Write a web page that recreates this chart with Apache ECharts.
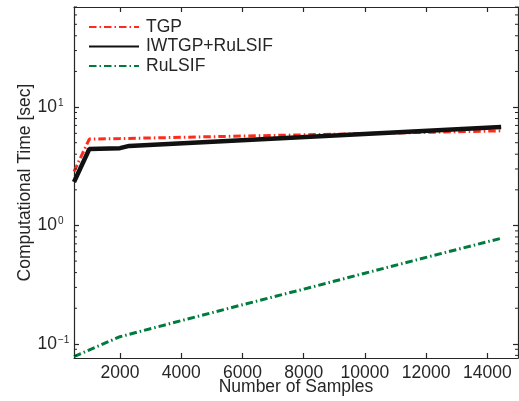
<!DOCTYPE html>
<html>
<head>
<meta charset="utf-8">
<script src="https://cdn.jsdelivr.net/npm/echarts@6/dist/echarts.min.js"></script>
<style>
  html, body { margin: 0; padding: 0; background: #ffffff; }
  #chart { width: 519px; height: 401px; }
</style>
</head>
<body>
<div id="chart"></div>
<script>
// Computational time (seconds) against the number of samples
const samplesTGP = [500, 1000, 2000, 14450];
const timeTGP = [2.85, 5.37, 5.42, 6.3];

const samplesIWTGP = [500, 1000, 2000, 2300, 14450];
const timeIWTGP = [2.33, 4.42, 4.5, 4.7, 6.8];

const samplesRuLSIF = [500, 2000, 4000, 6000, 8000, 10000, 12000, 14450];
const timeRuLSIF = [0.078, 0.115, 0.157, 0.214, 0.29, 0.395, 0.538, 0.78];

const xTickValues = [2000, 4000, 6000, 8000, 10000, 12000, 14000];
const yTickValues = [0.1, 1, 10];
const yMinorTickValues = [0.08, 0.09, 0.2, 0.3, 0.4, 0.5, 0.6, 0.7, 0.8, 0.9,
  2, 3, 4, 5, 6, 7, 8, 9, 20, 30, 40, 50, 60, 70];

const X_MIN = 500, X_MAX = 15000;
const Y_MIN = 0.076, Y_MAX = 70;

const FONT = '"Liberation Sans", Arial, Helvetica, sans-serif';
const INK = '#262626';
const FS = 17.5;

function zip(xs, ys) { return xs.map((x, i) => [x, ys[i]]); }

function powerLabel(value) {
  const e = Math.round(Math.log10(value));
  const exp = e < 0 ? '\u2212' + Math.abs(e) : String(e);
  return '{b|10}{e|' + exp + '}';
}

const dashDot = [7.5, 3, 1.5, 3];

const chart = echarts.init(document.getElementById('chart'), null, { renderer: 'canvas' });

const axisLineStyle = { color: INK, width: 1.2 };

chart.setOption({
  animation: false,
  backgroundColor: '#ffffff',
  textStyle: { fontFamily: FONT, color: INK },
  grid: { left: 74, right: 1, top: 7, bottom: 43, containLabel: false, outerBoundsMode: 'none' },
  legend: {
    orient: 'vertical',
    left: 88,
    top: 18,
    padding: 0,
    itemWidth: 50,
    itemHeight: 18,
    itemGap: 1.5,
    itemStyle: { opacity: 0 },
    textStyle: { fontFamily: FONT, fontSize: FS, color: INK, lineHeight: 18, padding: [0, 0, 0, 2] },
    data: ['TGP', 'IWTGP+RuLSIF', 'RuLSIF']
  },
  xAxis: [
    {
      type: 'value',
      min: X_MIN,
      max: X_MAX,
      position: 'bottom',
      name: 'Number of Samples',
      nameLocation: 'middle',
      nameGap: 19,
      nameMoveOverlap: false,
      nameTextStyle: { fontFamily: FONT, fontSize: FS, color: INK, lineHeight: 20 },
      axisLine: { show: true, lineStyle: axisLineStyle },
      axisTick: { show: true, inside: true, length: 5, lineStyle: axisLineStyle, customValues: xTickValues },
      axisLabel: {
        show: true, margin: 5, fontFamily: FONT, fontSize: FS, color: INK, lineHeight: 20,
        customValues: xTickValues,
        formatter: v => String(v)
      },
      splitLine: { show: false }
    },
    {
      type: 'value',
      min: X_MIN,
      max: X_MAX,
      position: 'top',
      axisLine: { show: true, lineStyle: axisLineStyle },
      axisTick: { show: true, inside: true, length: 5, lineStyle: axisLineStyle, customValues: xTickValues },
      axisLabel: { show: false },
      splitLine: { show: false }
    }
  ],
  yAxis: [
    {
      type: 'log',
      logBase: 10,
      min: Y_MIN,
      max: Y_MAX,
      position: 'left',
      name: 'Computational Time [sec]',
      nameLocation: 'middle',
      nameGap: 38.5,
      nameMoveOverlap: false,
      nameRotate: 90,
      nameTextStyle: { fontFamily: FONT, fontSize: FS, color: INK, lineHeight: 20 },
      axisLine: { show: true, lineStyle: axisLineStyle },
      axisTick: { show: true, inside: true, length: 5, lineStyle: axisLineStyle, customValues: yTickValues },
      axisLabel: {
        show: true,
        align: 'left',
        margin: 36.5,
        customValues: yTickValues,
        formatter: powerLabel,
        rich: {
          b: { fontFamily: FONT, fontSize: FS, color: INK, lineHeight: 18 },
          e: { fontFamily: FONT, fontSize: 10, color: INK, lineHeight: 10, verticalAlign: 'top', padding: [0, 0, 0, 1] }
        }
      },
      splitLine: { show: false }
    },
    {
      type: 'log',
      logBase: 10,
      min: Y_MIN,
      max: Y_MAX,
      position: 'right',
      axisLine: { show: true, lineStyle: axisLineStyle },
      axisTick: { show: true, inside: true, length: 5, lineStyle: axisLineStyle, customValues: yTickValues },
      axisLabel: { show: false },
      splitLine: { show: false }
    }
  ],
  series: [
    {
      name: 'TGP',
      type: 'line',
      xAxisIndex: 0,
      yAxisIndex: 0,
      data: zip(samplesTGP, timeTGP),
      symbol: 'none',
      lineStyle: { color: '#ff2a1a', width: 3, type: dashDot, cap: 'butt' },
      itemStyle: { color: '#ff2a1a' },
      z: 3
    },
    {
      name: 'IWTGP+RuLSIF',
      type: 'line',
      xAxisIndex: 0,
      yAxisIndex: 0,
      data: zip(samplesIWTGP, timeIWTGP),
      symbol: 'none',
      lineStyle: { color: '#111111', width: 4.5, type: 'solid', cap: 'butt' },
      itemStyle: { color: '#111111' },
      z: 4
    },
    {
      name: 'RuLSIF',
      type: 'line',
      xAxisIndex: 0,
      yAxisIndex: 0,
      data: zip(samplesRuLSIF, timeRuLSIF),
      symbol: 'none',
      lineStyle: { color: '#007a3d', width: 3, type: dashDot, cap: 'butt' },
      itemStyle: { color: '#007a3d' },
      z: 3
    },
    {
      // minor ticks of the log axis, drawn inward on both the left and right frame edges
      name: 'minorTicks',
      type: 'custom',
      xAxisIndex: 0,
      yAxisIndex: 0,
      silent: true,
      clip: false,
      z: 5,
      data: yMinorTickValues.map(v => [X_MIN, v]),
      encode: { x: 0, y: 1 },
      renderItem: function (params, api) {
        const cs = params.coordSys;
        const y = api.coord([X_MIN, api.value(1)])[1];
        const len = 3;
        return {
          type: 'group',
          children: [
            { type: 'line', shape: { x1: cs.x, y1: y, x2: cs.x + len, y2: y }, style: { stroke: INK, lineWidth: 1 } },
            { type: 'line', shape: { x1: cs.x + cs.width - len, y1: y, x2: cs.x + cs.width, y2: y }, style: { stroke: INK, lineWidth: 1 } }
          ]
        };
      }
    }
  ]
});
</script>
</body>
</html>
